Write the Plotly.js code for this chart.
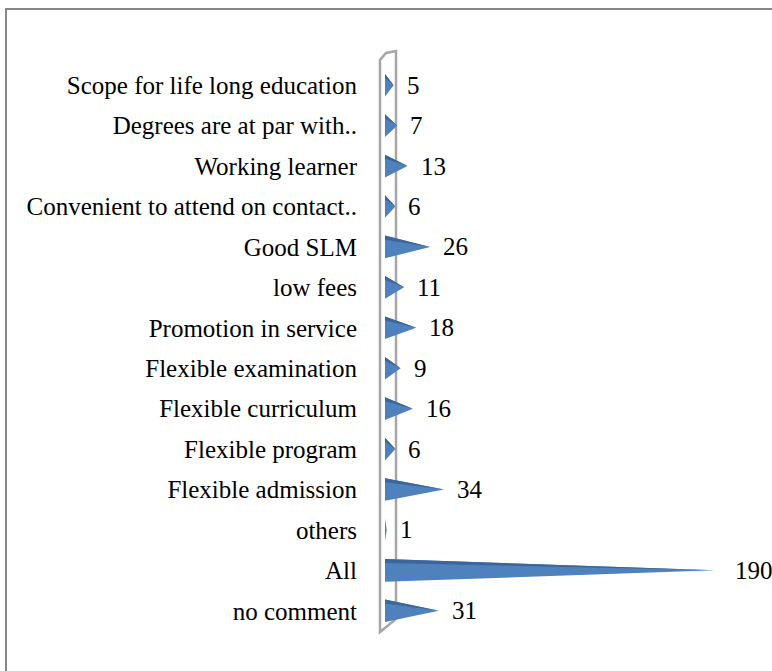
<!DOCTYPE html>
<html>
<head>
<meta charset="utf-8">
<script src="https://cdn.plot.ly/plotly-3.0.1.min.js"></script>
<style>
html,body{margin:0;padding:0;background:#fff;}
#chart{width:772px;height:671px;}
</style>
</head>
<body>
<div id="chart"></div>
<script>
// ---- data (top to bottom) ----
const categories = [
  "Scope for life long education",
  "Degrees are at par with..",
  "Working learner",
  "Convenient to attend on contact..",
  "Good SLM",
  "low fees",
  "Promotion in service",
  "Flexible examination",
  "Flexible curriculum",
  "Flexible program",
  "Flexible admission",
  "others",
  "All",
  "no comment"
];
const counts = [5, 7, 13, 6, 26, 11, 18, 9, 16, 6, 34, 1, 190, 31];

// ---- layout geometry ----
const W = 772, Hh = 671;
const M = {l: 385, r: 5, t: 65, b: 40};
const plotW = W - M.l - M.r, plotH = Hh - M.t - M.b;
const xMax = plotW / (330 / 190);
const px = x => (x - M.l) / plotW;
const py = y => 1 - (y - M.t) / plotH;
const FONT = 'Liberation Serif';
const FS = 25;

const idx = categories.map((_, i) => i);
const half = 0.28;
const traces = [];
counts.forEach((v, i) => {
  // main cone body
  traces.push({
    type: 'scatter', mode: 'lines', fill: 'toself',
    x: [0, v, 0, 0], y: [i - half, i, i + half, i - half],
    line: {width: 0, color: '#4f81bd'}, fillcolor: '#4f81bd',
    hoverinfo: 'skip', showlegend: false
  });
  // darker top facet
  traces.push({
    type: 'scatter', mode: 'lines', fill: 'toself',
    x: [0, v, 0, 0], y: [i - half, i, i - half + 0.1, i - half],
    line: {width: 0, color: '#3b669b'}, fillcolor: '#3b669b',
    hoverinfo: 'skip', showlegend: false
  });
});

const annotations = counts.map((v, i) => ({
  x: v, y: i, xref: 'x', yref: 'y', text: String(v),
  showarrow: false, xanchor: 'left', yanchor: 'middle', xshift: v > 100 ? 18 : 11,
  font: {family: FONT, size: FS, color: '#000'}
}));

const wallPath = `M${px(380)},${py(632)} L${px(380)},${py(60)} L${px(386)},${py(53)} L${px(396)},${py(51)} L${px(396)},${py(619)} Z`;

const layout = {
  width: W, height: Hh,
  margin: M,
  font: {family: FONT, size: FS, color: '#000'},
  paper_bgcolor: '#fff', plot_bgcolor: 'rgba(0,0,0,0)',
  showlegend: false,
  xaxis: {range: [0, xMax], visible: false, fixedrange: true},
  yaxis: {
    range: [categories.length - 0.5, -0.5],
    tickvals: idx, ticktext: categories,
    showgrid: false, zeroline: false, showline: false, ticks: '',
    ticklabelstandoff: 27,
    tickfont: {family: FONT, size: FS, color: '#000'},
    fixedrange: true
  },
  annotations: annotations,
  shapes: [
    {type: 'rect', xref: 'paper', yref: 'paper', layer: 'below',
     x0: px(6), x1: px(800), y0: py(9), y1: py(700),
     line: {color: '#878787', width: 2}, fillcolor: 'rgba(0,0,0,0)'},
    {type: 'path', xref: 'paper', yref: 'paper', layer: 'below',
     path: wallPath, line: {color: '#a6a6a6', width: 2.5}, fillcolor: '#ffffff'}
  ]
};

Plotly.newPlot('chart', traces, layout, {staticPlot: true, displayModeBar: false});
</script>
</body>
</html>
